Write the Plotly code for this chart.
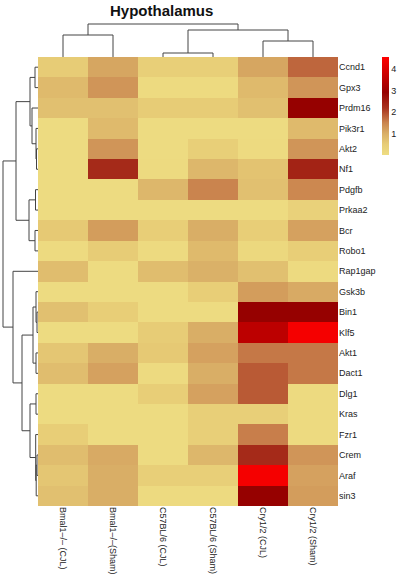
import plotly.graph_objects as go

W, H = 398, 580

columns = ["Bmal1\u2013/\u2013 (CJL)", "Bmal1\u2013/\u2013(Sham)", "C57BL/6 (CJL)",
           "C57BL/6 (Sham)", "Cry1/2 (CJL)", "Cry1/2 (Sham)"]
genes = ["Ccnd1", "Gpx3", "Prdm16", "Pik3r1", "Akt2", "Nf1", "Pdgfb", "Prkaa2",
         "Bcr", "Robo1", "Rap1gap", "Gsk3b", "Bin1", "Klf5", "Akt1", "Dact1",
         "Dlg1", "Kras", "Fzr1", "Crem", "Araf", "sin3"]

# expression values, one row per gene (columns in the order above)
values = [
    [0.50, 1.10, 0.40, 0.40, 1.10, 1.75],
    [0.80, 1.30, 0.10, 0.10, 0.80, 1.30],
    [0.70, 0.70, 0.50, 0.50, 0.70, 2.90],
    [0.05, 0.80, 0.05, 0.05, 0.05, 0.80],
    [0.05, 1.30, 0.05, 0.40, 0.10, 1.30],
    [0.05, 2.30, 0.10, 0.85, 0.65, 2.40],
    [0.05, 0.05, 0.85, 1.50, 0.70, 1.45],
    [0.05, 0.05, 0.05, 0.05, 0.05, 0.35],
    [0.55, 1.20, 0.45, 1.00, 0.45, 1.15],
    [0.10, 0.50, 0.10, 0.80, 0.15, 0.45],
    [0.75, 0.05, 0.75, 0.95, 0.70, 0.10],
    [0.05, 0.05, 0.05, 0.45, 1.20, 1.05],
    [0.70, 0.45, 0.05, 0.05, 2.90, 2.90],
    [0.05, 0.05, 0.50, 1.00, 3.50, 4.40],
    [0.60, 1.00, 0.55, 1.15, 1.60, 1.60],
    [0.75, 1.15, 0.10, 1.00, 1.85, 1.60],
    [0.05, 0.05, 0.45, 1.15, 1.85, 0.10],
    [0.05, 0.05, 0.05, 0.40, 0.40, 0.10],
    [0.45, 0.05, 0.05, 0.40, 1.55, 0.10],
    [0.75, 1.05, 0.05, 0.85, 2.30, 1.30],
    [0.60, 1.00, 0.40, 0.40, 4.40, 1.15],
    [0.70, 1.00, 0.10, 0.10, 2.90, 1.20],
]

colorbar_ticks = [1, 2, 3, 4]
zmin, zmax = 0, 4.55

# dendrogram merges: (left, right, height); leaves are display indices,
# merged nodes are referenced as ("n", k) for the k-th merge
col_merges = [
    (0, 1, 22),
    (2, 3, 4),
    (4, 5, 16),
    (("n", 1), ("n", 2), 27),
    (("n", 0), ("n", 3), 33),
]
row_merges = [
    (0, 1, 3),            # n0
    (4, 5, 1.5),          # n1
    (3, ("n", 1), 2),     # n2
    (2, ("n", 2), 6),     # n3
    (("n", 0), ("n", 3), 8),  # n4
    (6, 7, 2.5),          # n5
    (8, 9, 3),            # n6
    (("n", 5), ("n", 6), 9),  # n7
    (("n", 4), ("n", 7), 22),  # n8
    (12, 13, 1),          # n9
    (11, ("n", 9), 2),    # n10
    (14, 15, 2),          # n11
    (("n", 10), ("n", 11), 5),  # n12
    (16, 17, 2),          # n13
    (19, 20, 1),          # n14
    (("n", 14), 21, 1.8), # n15
    (18, ("n", 15), 2.3), # n16
    (("n", 13), ("n", 16), 8),  # n17
    (("n", 12), ("n", 17), 16),  # n18
    (10, ("n", 18), 25),  # n19
    (("n", 8), ("n", 19), 35),  # n20
]


def dendro_lines(merges):
    pos, hgt = {}, {}
    xs, ys = [], []
    for k, (a, b, h) in enumerate(merges):
        pts = []
        for c in (a, b):
            if isinstance(c, tuple):
                pts.append((pos[c[1]], hgt[c[1]]))
            else:
                pts.append((c, 0))
        (pa, ha), (pb, hb) = pts
        xs += [pa, pa, pb, pb, None]
        ys += [ha, h, h, hb, None]
        pos[k] = (pa + pb) / 2
        hgt[k] = h
    return xs, ys


colorscale = [
    [0.0, "rgb(238,221,130)"],
    [0.11, "rgb(231,204,118)"],
    [0.22, "rgb(217,174,102)"],
    [0.33, "rgb(202,132,78)"],
    [0.48, "rgb(168,50,30)"],
    [0.64, "rgb(150,0,0)"],
    [0.77, "rgb(188,0,0)"],
    [1.0, "rgb(255,0,0)"],
]

hm_x = [38 / W, 338 / W]
hm_y = [1 - 506 / H, 1 - 57 / H]

fig = go.Figure()
fig.add_trace(go.Heatmap(
    z=values, x=list(range(len(columns))), y=list(range(len(genes))),
    colorscale=colorscale, zmin=zmin, zmax=zmax, xgap=0, ygap=0,
    colorbar=dict(thickness=7, len=98 / H, lenmode="fraction", x=382 / W,
                  xanchor="left", y=1 - 57 / H, yanchor="top", xpad=0, ypad=0,
                  outlinewidth=0, tickvals=colorbar_ticks, ticks="",
                  tickfont=dict(size=9, color="#222", family="Liberation Sans")),
    xaxis="x", yaxis="y",
))

cx, cy = dendro_lines(col_merges)
fig.add_trace(go.Scatter(x=cx, y=cy, mode="lines", xaxis="x2", yaxis="y2",
                         line=dict(color="#444", width=1), hoverinfo="skip",
                         showlegend=False))
ry, rx = dendro_lines(row_merges)
fig.add_trace(go.Scatter(x=rx, y=ry, mode="lines", xaxis="x3", yaxis="y3",
                         line=dict(color="#444", width=1), hoverinfo="skip",
                         showlegend=False))

lab_font = dict(size=9, color="#222", family="Liberation Sans")
fig.update_layout(
    width=W, height=H,
    margin=dict(l=0, r=0, t=0, b=0, autoexpand=False),
    paper_bgcolor="white", plot_bgcolor="white", showlegend=False,
    xaxis=dict(domain=hm_x, range=[-0.5, 5.5], tickvals=list(range(6)),
               ticktext=columns, tickangle=90, side="bottom", showgrid=False,
               zeroline=False, ticks="", ticklen=0, tickfont=lab_font,
               anchor="y", automargin=False),
    yaxis=dict(domain=hm_y, range=[len(genes) - 0.5, -0.5],
               tickvals=list(range(len(genes))), ticktext=genes, side="right",
               showgrid=False, zeroline=False, ticks="", ticklen=0,
               tickfont=lab_font, anchor="x", automargin=False),
    xaxis2=dict(domain=hm_x, range=[-0.5, 5.5], visible=False, anchor="y2"),
    yaxis2=dict(domain=[1 - 57 / H, 1 - 20 / H], range=[0, 37], visible=False,
                anchor="x2"),
    xaxis3=dict(domain=[0, 38 / W], range=[38, 0], visible=False, anchor="y3"),
    yaxis3=dict(domain=hm_y, range=[len(genes) - 0.5, -0.5], visible=False,
                anchor="x3"),
    annotations=[dict(text="<b>Hypothalamus</b>", x=161 / W, y=1 - 11 / H,
                      xref="paper", yref="paper", showarrow=False,
                      xanchor="center", yanchor="middle",
                      font=dict(size=15, color="#111", family="Liberation Sans"))],
)

fig.write_html("out.html", config={"displayModeBar": False},
               post_script="document.body.style.margin='0';"
                           "document.body.style.overflow='hidden';")
